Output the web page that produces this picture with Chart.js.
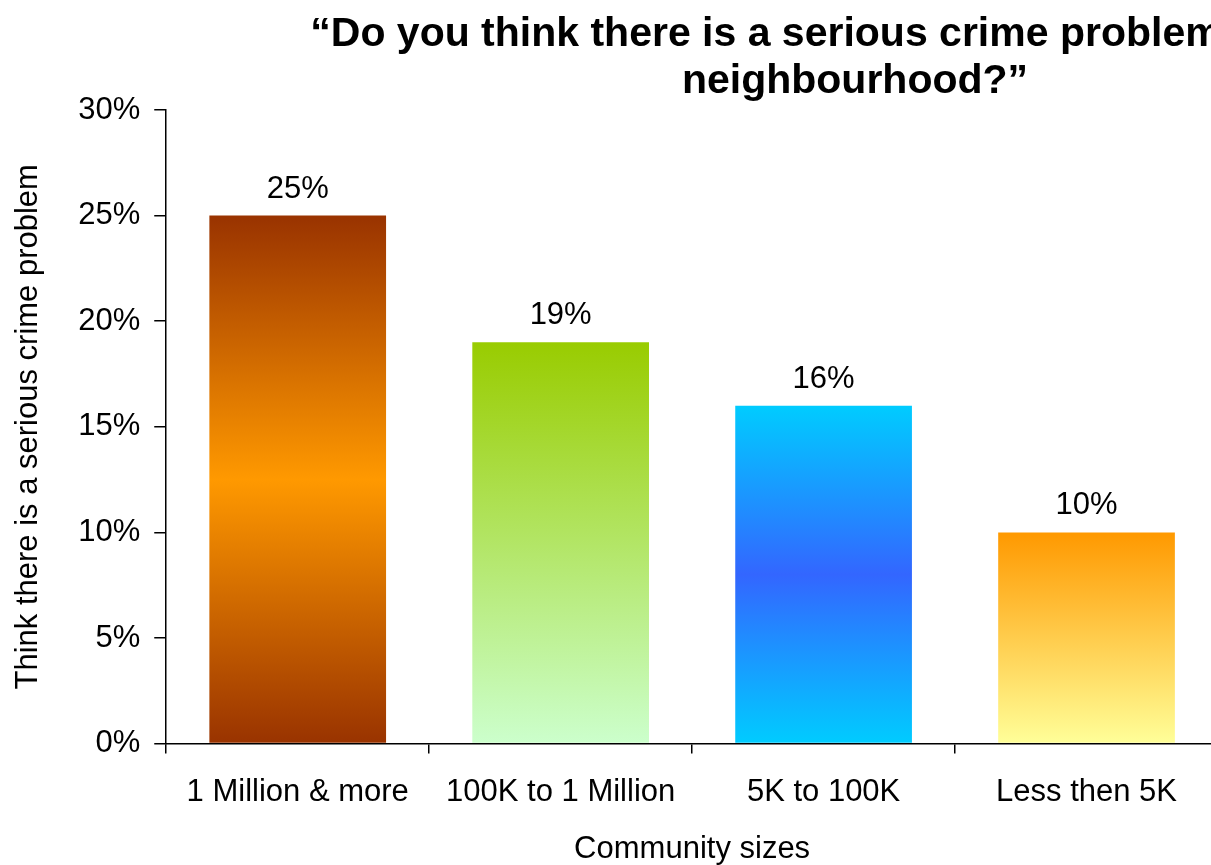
<!DOCTYPE html>
<html>
<head>
<meta charset="utf-8">
<script src="https://cdn.jsdelivr.net/npm/chart.js@4"></script>
<style>
  html, body { margin: 0; padding: 0; background: #fff; overflow: hidden; }
  #wrap { width: 1225px; height: 865px; position: relative; }
</style>
</head>
<body>
<div id="wrap"><canvas id="chart"></canvas></div>
<script>
const categories = ['1 Million & more', '100K to 1 Million', '5K to 100K', 'Less then 5K'];
const values = [25, 19, 16, 10];
const yTicks = [0, 5, 10, 15, 20, 25, 30];
const titleLines = ['\u201cDo you think there is a serious crime problem in your', 'neighbourhood?\u201d'];

// top -> bottom colour stops for each bar
const barStops = [
  [[0, '#993300'], [0.5, '#FF9900'], [1, '#993300']],
  [[0, '#99CC00'], [1, '#CCFFCC']],
  [[0, '#00CCFF'], [0.5, '#3366FF'], [1, '#00CCFF']],
  [[0, '#FF9900'], [1, '#FFFF99']]
];

const FONT = "'Liberation Sans', Arial, sans-serif";
const SIZE = 31;

function barFill(ctx) {
  const chart = ctx.chart;
  if (!chart.chartArea || ctx.type !== 'data') return '#FF9900';
  const y = chart.scales.y;
  const top = y.getPixelForValue(values[ctx.dataIndex]);
  const bottom = y.getPixelForValue(0);
  const g = chart.ctx.createLinearGradient(0, top, 0, bottom);
  barStops[ctx.dataIndex].forEach(s => g.addColorStop(s[0], s[1]));
  return g;
}

const valueLabels = {
  id: 'valueLabels',
  afterDatasetsDraw(chart) {
    const c = chart.ctx;
    c.save();
    c.font = SIZE + 'px ' + FONT;
    c.fillStyle = '#000';
    c.textAlign = 'center';
    c.textBaseline = 'alphabetic';
    chart.getDatasetMeta(0).data.forEach((bar, i) => {
      c.fillText(values[i] + '%', bar.x, bar.y - 18);
    });
    c.restore();
  }
};

const topTitle = {
  id: 'topTitle',
  afterDraw(chart) {
    const c = chart.ctx;
    c.save();
    c.font = 'bold 41px ' + FONT;
    c.fillStyle = '#000';
    c.textAlign = 'center';
    c.fillText(titleLines[0], 840, 46);
    c.fillText(titleLines[1], 855, 93);
    c.restore();
  }
};

new Chart(document.getElementById('chart'), {
  type: 'bar',
  data: {
    labels: categories,
    datasets: [{
      data: values,
      backgroundColor: barFill,
      borderWidth: 0,
      categoryPercentage: 1,
      barPercentage: 0.672
    }]
  },
  options: {
    responsive: true,
    maintainAspectRatio: false,
    animation: false,
    layout: { padding: { top: 110, left: 10, right: 7, bottom: -3 } },
    plugins: {
      legend: { display: false },
      tooltip: { enabled: false },
      title: { display: false }
    },
    scales: {
      x: {
        offset: true,
        grid: { offset: true, drawOnChartArea: false, color: '#000', lineWidth: 1.5, tickLength: 10 },
        border: { color: '#000', width: 1.5 },
        ticks: { color: '#000', font: { family: FONT, size: SIZE }, padding: 20, maxRotation: 0 },
        title: { display: true, text: 'Community sizes', color: '#000', font: { family: FONT, size: SIZE }, padding: { top: 0, bottom: 0 } }
      },
      y: {
        min: 0,
        max: 30,
        afterBuildTicks(scale) { scale.ticks = yTicks.map(v => ({ value: v })); },
        grid: { drawOnChartArea: false, color: '#000', lineWidth: 1.5, tickLength: 12 },
        border: { color: '#000', width: 1.5 },
        ticks: { color: '#000', font: { family: FONT, size: SIZE }, padding: 14, callback: v => v + '%' },
        title: { display: true, text: 'Think there is a serious crime problem', color: '#000', font: { family: FONT, size: SIZE }, padding: { top: 0, bottom: 17 } }
      }
    }
  },
  plugins: [valueLabels, topTitle]
});
</script>
</body>
</html>
